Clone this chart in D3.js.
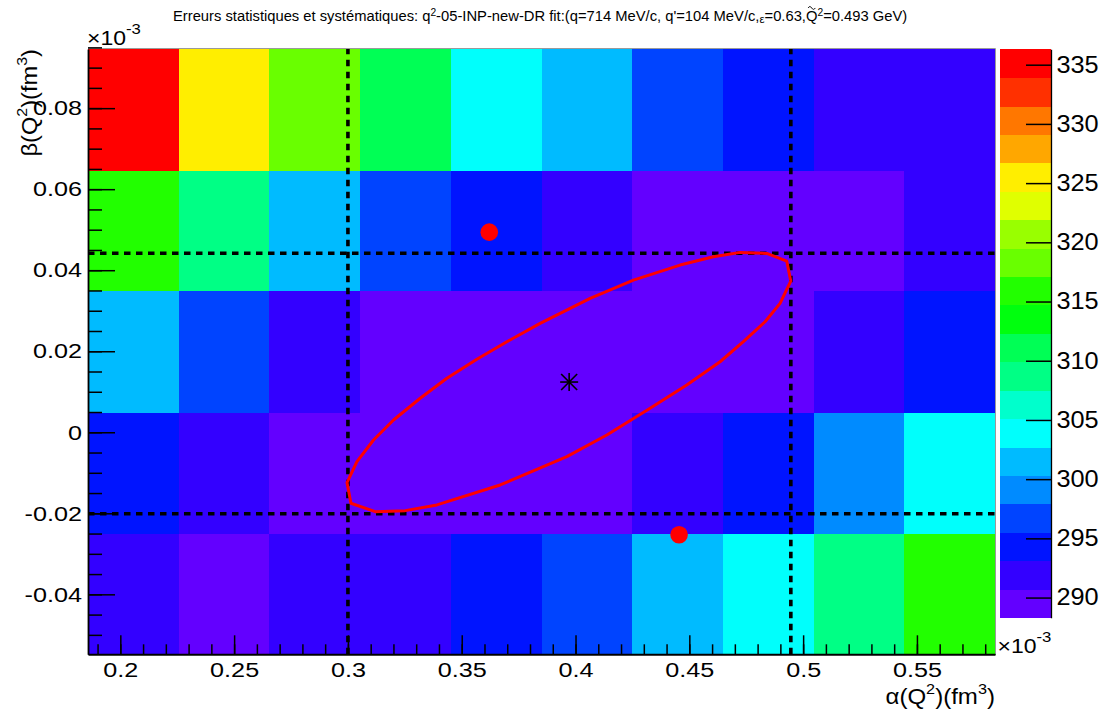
<!DOCTYPE html>
<html><head><meta charset="utf-8">
<script src="https://cdn.jsdelivr.net/npm/d3@7"></script>
<style>
body{margin:0;background:#fff}
svg{display:block}
text{font-family:"Liberation Sans",Arial,Helvetica,sans-serif;fill:#000}
</style>
</head><body>
<svg id="chart" width="1103" height="717"></svg>
<script>
// ---------------- data ----------------
const alphaEdges = [0.1858,0.2257,0.2655,0.3054,0.3452,0.3851,0.4249,0.4648,0.5046,0.5445,0.5843];
const betaEdges  = [-0.0548,-0.0249,0.0050,0.0349,0.0647,0.0946];
// chi2 values (x10^-3), one array per beta bin, top bin first
const chi2BetaBin5 = [336.3,325.8,318.6,310.9,304.2,301.0,296.5,294.0,292.2,291.5];
const chi2BetaBin4 = [315.4,308.5,301.8,296.9,294.6,292.0,290.2,289.6,290.4,292.6];
const chi2BetaBin3 = [301.3,297.0,292.3,289.4,288.6,288.3,288.9,289.9,291.8,294.1];
const chi2BetaBin2 = [293.8,291.4,290.1,289.1,288.7,289.2,290.9,293.6,299.3,303.7];
const chi2BetaBin1 = [291.2,290.3,291.0,291.6,293.9,296.2,301.7,304.6,308.2,315.7];
const xTicks = [0.2,0.25,0.3,0.35,0.4,0.45,0.5,0.55];
const yTicks = [-0.04,-0.02,0,0.02,0.04,0.06,0.08];
const zTicks = [290,295,300,305,310,315,320,325,330,335];
const nContours = 20;
// error contour (1 sigma) vertices
const ellipseAlpha = [0.2996,0.30132,0.31199,0.32516,0.33909,0.36689,0.39618,0.41375,0.43276,0.44888,0.4635,0.47374,0.48327,0.48986,0.49456,0.4928,0.48401,0.47229,0.46056,0.44594,0.42543,0.40641,0.38445,0.36983,0.35665,0.34348,0.33175,0.32003,0.31124,0.30395];
const ellipseBeta  = [-0.01243,-0.01751,-0.01959,-0.01934,-0.01793,-0.0130,-0.00602,-0.00067,0.00592,0.01167,0.01741,0.02235,0.02728,0.03182,0.03732,0.04225,0.04415,0.0444,0.04332,0.04127,0.03757,0.03305,0.02689,0.02235,0.01801,0.01332,0.00839,0.00303,-0.0019,-0.00725];
const alphaLimits = [0.3000,0.4946];
const betaLimits  = [-0.0201,0.0442];
const bestFit = {alpha:0.3972, beta:0.0124};
const pointsAlpha = [0.3621,0.4455];
const pointsBeta  = [0.0494,-0.0253];

// ---------------- layout ----------------
const svg = d3.select("#chart");
const L = 88, R = 995, T = 49, B = 654.3;
const x = d3.scaleLinear().domain([alphaEdges[0], alphaEdges[alphaEdges.length-1]]).range([L,R]);
const y = d3.scaleLinear().domain([betaEdges[0], betaEdges[betaEdges.length-1]]).range([B,T]);

function hstretch(sel,s){
  sel.each(function(){
    const x0 = +this.getAttribute("x")||0;
    d3.select(this).attr("transform",`translate(${x0*(1-s)},0) scale(${s},1)`);
  });
}

const grid = [chi2BetaBin1,chi2BetaBin2,chi2BetaBin3,chi2BetaBin4,chi2BetaBin5];
const cells = [];
grid.forEach((row,j)=>row.forEach((v,i)=>cells.push({i,j,v})));
const zMin = d3.min(cells,d=>d.v), zMax = d3.max(cells,d=>d.v);

// ROOT "pretty palette": 50 HLS colours, 20 contours
const palette = d3.range(50).map(i=>d3.hsl(280-(i+1)*5.6,1,0.5).formatHex());
const levelColor = k => palette[Math.floor((k+0.99)*50/nContours)];
const levelOf = v => Math.max(0,Math.min(nContours-1,Math.floor((v-zMin)/(zMax-zMin)*nContours)));

// cells
svg.append("g").selectAll("rect").data(cells).join("rect")
  .attr("x",d=>x(alphaEdges[d.i]))
  .attr("y",d=>y(betaEdges[d.j+1]))
  .attr("width",d=>x(alphaEdges[d.i+1])-x(alphaEdges[d.i])+0.5)
  .attr("height",d=>y(betaEdges[d.j])-y(betaEdges[d.j+1])+0.5)
  .attr("fill",d=>levelColor(levelOf(d.v)))
  .attr("shape-rendering","crispEdges");

// frame top/right
svg.append("path").attr("d",`M${L},${T-0.5}H${R+0.5}V${B}`).attr("fill","none").attr("stroke","#9a9a9a").attr("stroke-width",1);

// dashed limit lines
const dash = svg.append("g").attr("stroke","#000").attr("stroke-width",3.6).attr("stroke-dasharray","6.5,5.5");
alphaLimits.forEach(a=>dash.append("line").attr("x1",x(a)).attr("x2",x(a)).attr("y1",B).attr("y2",T));
betaLimits.forEach(b=>dash.append("line").attr("x1",L).attr("x2",R).attr("y1",y(b)).attr("y2",y(b)));

// contour
const ellipsePts = ellipseAlpha.map((a,k)=>[x(a),y(ellipseBeta[k])]);
svg.append("path").attr("d",d3.line().curve(d3.curveLinearClosed)(ellipsePts))
  .attr("fill","none").attr("stroke","#ff0000").attr("stroke-width",3).attr("stroke-linejoin","round");

// red points
svg.append("g").selectAll("circle").data(pointsAlpha).join("circle")
  .attr("cx",d=>x(d)).attr("cy",(d,k)=>y(pointsBeta[k])).attr("r",8.8).attr("fill","#ff0000");

// best fit star (ROOT marker 3)
const sx = x(bestFit.alpha), sy = y(bestFit.beta);
const star = svg.append("g").attr("stroke","#000").attr("stroke-width",1.6);
star.append("line").attr("x1",sx-9).attr("y1",sy).attr("x2",sx+9).attr("y2",sy);
star.append("line").attr("x1",sx).attr("y1",sy-9).attr("x2",sx).attr("y2",sy+9);
star.append("line").attr("x1",sx-8).attr("y1",sy-8).attr("x2",sx+8).attr("y2",sy+8);
star.append("line").attr("x1",sx-8).attr("y1",sy+8).attr("x2",sx+8).attr("y2",sy-8);

// ---------------- axes ----------------
const fmt = d => String(d);
function styleAxis(g,size,s){
  g.attr("font-family",null).attr("font-size",null);
  g.selectAll("text").attr("font-size",size).attr("fill","#000").call(hstretch,s);
  g.selectAll("line").attr("stroke","#000").attr("stroke-width",1.5);
}
// x axis
const xMinor = d3.range(0.19,0.585,0.01).map(v=>+v.toFixed(3));
svg.append("g").attr("transform",`translate(0,${B})`)
  .call(d3.axisBottom(x).tickValues(xMinor).tickSize(-10).tickFormat(""))
  .call(g=>{g.select(".domain").remove();g.selectAll("line").attr("stroke","#000").attr("stroke-width",1.5);});
const gx = svg.append("g").attr("transform",`translate(0,${B})`)
  .call(d3.axisBottom(x).tickValues(xTicks).tickSize(-19).tickSizeOuter(0).tickPadding(7.5).tickFormat(fmt))
  .call(styleAxis,21,1.2);
gx.select(".domain").attr("stroke","#000").attr("stroke-width",2);

// y axis
const yMinor = d3.range(-0.05,0.0951,0.005).map(v=>+v.toFixed(4));
svg.append("g").attr("transform",`translate(${L},0)`)
  .call(d3.axisLeft(y).tickValues(yMinor).tickSize(-14).tickFormat(""))
  .call(g=>{g.select(".domain").remove();g.selectAll("line").attr("stroke","#000").attr("stroke-width",1.5);});
const gy = svg.append("g").attr("transform",`translate(${L},0)`)
  .call(d3.axisLeft(y).tickValues(yTicks).tickSize(-27).tickSizeOuter(0).tickPadding(6).tickFormat(fmt))
  .call(styleAxis,21,1.2);
gy.select(".domain").attr("stroke","#000").attr("stroke-width",1.8);

// ---------------- colour bar ----------------
const cbL = 1000, cbR = 1051, cbT = 49.3, cbB = 617.7;
const z = d3.scaleLinear().domain([zMin,zMax]).range([cbB,cbT]);
const levels = d3.range(nContours);
svg.append("g").selectAll("rect").data(levels).join("rect")
  .attr("x",cbL).attr("width",cbR-cbL)
  .attr("y",k=>z(zMin+(k+1)*(zMax-zMin)/nContours))
  .attr("height",k=>z(zMin+k*(zMax-zMin)/nContours)-z(zMin+(k+1)*(zMax-zMin)/nContours)+0.4)
  .attr("fill",k=>levelColor(k)).attr("shape-rendering","crispEdges");
const gz = svg.append("g").attr("transform",`translate(${cbR},0)`)
  .call(d3.axisRight(z).tickValues(zTicks).tickSize(-25).tickSizeOuter(0).tickPadding(5.5).tickFormat(fmt))
  .call(styleAxis,23,1.1);
gz.select(".domain").attr("stroke","#000").attr("stroke-width",1.3);

// ---------------- texts ----------------
function expLabel(xp,yb){
  const t = svg.append("text").attr("x",xp).attr("y",yb).attr("font-size",20);
  t.append("tspan").text("\u00d710");
  t.append("tspan").attr("dy",-11).attr("font-size",14.5).text("-3");
  t.call(hstretch,1.15);
}
expLabel(87,45.5);
expLabel(997.5,652.7);

// x title
const xt = svg.append("text").attr("x",R).attr("y",704).attr("text-anchor","end").attr("font-size",21.5);
xt.append("tspan").text("\u03b1(Q");
xt.append("tspan").attr("dy",-10).attr("font-size",14.5).text("2");
xt.append("tspan").attr("dy",10).text(")(fm");
xt.append("tspan").attr("dy",-10).attr("font-size",14.5).text("3");
xt.append("tspan").attr("dy",10).text(")");
xt.call(hstretch,1.12);

// y title
const yt = svg.append("text").attr("transform",`translate(37,${T}) rotate(-90) scale(1.1,1)`).attr("text-anchor","end").attr("font-size",21.5);
yt.append("tspan").text("\u03b2(Q");
yt.append("tspan").attr("dy",-10).attr("font-size",14.5).text("2");
yt.append("tspan").attr("dy",10).text(")(fm");
yt.append("tspan").attr("dy",-10).attr("font-size",14.5).text("3");
yt.append("tspan").attr("dy",10).text(")");

// title
const title = svg.append("text").attr("x",173).attr("y",21).attr("font-size",13);
title.append("tspan").text("Erreurs statistiques et syst\u00e9matiques: q");
title.append("tspan").attr("dy",-5).attr("font-size",9).text("2");
title.append("tspan").attr("dy",5).text("-05-INP-new-DR fit:(q=714 MeV/c, q'=104 MeV/c,");
title.append("tspan").attr("dy",2).attr("font-size",10).text("\u03b5");
title.append("tspan").attr("dy",-2).text("=0.63,");
title.append("tspan").text("Q");
title.append("tspan").attr("dy",-5).attr("font-size",9).text("2");
title.append("tspan").attr("dy",5).text("=0.493 GeV)");
// fit title width to reference
const w0 = title.node().getBBox().width;
const kf = 735/w0;
title.attr("font-size",13*kf);
title.selectAll("tspan").each(function(){const f=d3.select(this).attr("font-size"); if(f) d3.select(this).attr("font-size",+f*kf);});
// tilde over Q (drawn as a small path)
const txt = title.node();
const qi = txt.textContent.lastIndexOf("Q");
const qp = txt.getStartPositionOfChar(qi), qe = txt.getEndPositionOfChar(qi);
const cx = (qp.x+qe.x)/2, ty = qp.y - 13*kf*0.72 - 3;
svg.append("path").attr("d",`M${cx-3.6},${ty+0.6} c1.2,-1.9 2.4,-1.9 3.6,0 s2.4,1.9 3.6,0`)
  .attr("fill","none").attr("stroke","#000").attr("stroke-width",0.9);
</script>
</body></html>
